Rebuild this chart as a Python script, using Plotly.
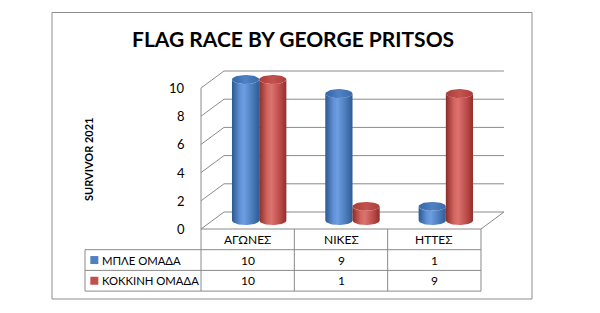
import numpy as np
import plotly.graph_objects as go

# ---------------- data ----------------
categories = ["ΑΓΩΝΕΣ", "ΝΙΚΕΣ", "ΗΤΤΕΣ"]
series_names = ["ΜΠΛΕ ΟΜΑΔΑ", "ΚΟΚΚΙΝΗ ΟΜΑΔΑ"]
blue_values = [10, 9, 1]
red_values = [10, 1, 9]
y_ticks = [0, 2, 4, 6, 8, 10]
title_text = "FLAG RACE BY GEORGE PRITSOS"
y_title = "SURVIVOR 2021"

# ---------------- geometry / style ----------------
W, H = 600, 313
PX_PER_CAT = 93.33      # pixels per category unit (x)
PX_PER_UNIT = 14.1      # pixels per value unit (y)
ORIGIN = (201, 229)     # pixel position of (x=0, y=0) front-left floor corner
X_RANGE = [-ORIGIN[0] / PX_PER_CAT, (W - ORIGIN[0]) / PX_PER_CAT]
Y_RANGE = [-(H - ORIGIN[1]) / PX_PER_UNIT, ORIGIN[1] / PX_PER_UNIT]

DX = 23 / PX_PER_CAT     # depth offset in x units
DY = 17 / PX_PER_UNIT    # depth offset in y units
RX = 13.6 / PX_PER_CAT   # cylinder radius (x units)
RY = 4.5 / PX_PER_UNIT   # cylinder ellipse half height (y units)
ROW_H = 20.7 / PX_PER_UNIT
LEG_X = (85 - ORIGIN[0]) / PX_PER_CAT

GRID = "#8a8a8a"
FONT = "Lato"

series = [
    dict(name=series_names[0], values=blue_values, color="#4F81BD",
         body=[[0, "#2b5891"], [0.3, "#6292d6"], [0.45, "#6d9de2"], [0.75, "#4a7cbb"], [1, "#2e5c96"]],
         top=[[0, "#3566a6"], [0.5, "#4f81c4"], [1, "#3a6aa8"]]),
    dict(name=series_names[1], values=red_values, color="#C0504D",
         body=[[0, "#8c2c2a"], [0.3, "#d2655f"], [0.45, "#dc736e"], [0.75, "#bd4d4a"], [1, "#922f2d"]],
         top=[[0, "#a83d3a"], [0.5, "#c4524e"], [1, "#ab3e3b"]]),
]

fig = go.Figure()
shapes = []


def line(x0, y0, x1, y1, color=GRID, width=1):
    shapes.append(dict(type="line", xref="x", yref="y", x0=x0, y0=y0, x1=x1, y1=y1,
                       line=dict(color=color, width=width), layer="below"))


n = len(categories)
# side wall + back wall gridlines
for v in y_ticks:
    line(0, v, DX, v + DY)
    line(DX, v + DY, n + DX, v + DY)
# left front edge
line(0, 0, 0, max(y_ticks))
# floor
line(0, 0, n, 0)
line(n, 0, n + DX, DY)

# table lines
for k in range(1, 4):
    line(LEG_X, -k * ROW_H, n, -k * ROW_H)
for i in range(n + 1):
    line(i, 0, i, -3 * ROW_H)
line(LEG_X, -ROW_H, LEG_X, -3 * ROW_H)

# cylinders
t_top = np.linspace(np.pi, 2 * np.pi, 40)
t_bot = np.linspace(0, -np.pi, 40)
t_full = np.linspace(0, 2 * np.pi, 60)
for s_idx, s in enumerate(series):
    for i, v in enumerate(s["values"]):
        cx = i + 0.5 + DX / 2 + (s_idx * 2 - 1) * RX
        base = DY / 2
        top = v + DY / 2
        xs = [cx - RX] + list(cx + RX * np.cos(t_top)) + list(cx + RX * np.cos(t_bot)) + [cx - RX]
        ys = [base] + list(top + RY * np.sin(t_top)) + list(base + RY * np.sin(t_bot)) + [base]
        fig.add_trace(go.Scatter(x=xs, y=ys, mode="lines", fill="toself",
                                 line=dict(width=0, color=s["color"]),
                                 fillgradient=dict(type="horizontal", colorscale=s["body"]),
                                 hoverinfo="skip", showlegend=False))
        fig.add_trace(go.Scatter(x=list(cx + RX * np.cos(t_full)), y=list(top + RY * np.sin(t_full)),
                                 mode="lines", fill="toself",
                                 line=dict(width=0, color=s["color"]),
                                 fillgradient=dict(type="horizontal", colorscale=s["top"]),
                                 hoverinfo="skip", showlegend=False))

annotations = []
# category header labels
for i, c in enumerate(categories):
    annotations.append(dict(x=i + 0.5, y=-ROW_H / 2, xref="x", yref="y", text=c, showarrow=False,
                            xanchor="center", yanchor="middle",
                            font=dict(family=FONT, size=12, color="#000")))
# table rows
for r, s in enumerate(series):
    yc = -(r + 1.5) * ROW_H
    fig.add_trace(go.Scatter(x=[LEG_X + 0.1], y=[yc], mode="markers",
                             marker=dict(symbol="square", size=8, color=s["color"], line=dict(width=0)),
                             hoverinfo="skip", showlegend=False))
    annotations.append(dict(x=LEG_X + 0.16, y=yc, xref="x", yref="y", text=s["name"], showarrow=False,
                            xanchor="left", yanchor="middle", font=dict(family=FONT, size=11.3, color="#000")))
    for i, v in enumerate(s["values"]):
        annotations.append(dict(x=i + 0.5, y=yc, xref="x", yref="y", text=str(v), showarrow=False,
                                xanchor="center", yanchor="middle",
                                font=dict(family=FONT, size=12, color="#000")))

# y tick labels
for v in y_ticks:
    annotations.append(dict(x=-0.15, y=v, xref="x", yref="y", text=str(v), showarrow=False,
                            xanchor="right", yanchor="middle", font=dict(family=FONT, size=13, color="#000")))

# titles
annotations.append(dict(x=293 / W, y=1 - 38 / H, xref="paper", yref="paper", text="<b>" + title_text + "</b>",
                        showarrow=False, xanchor="center", yanchor="middle",
                        font=dict(family=FONT, size=21, color="#000")))
annotations.append(dict(x=88 / W, y=1 - 160 / H, xref="paper", yref="paper", text="<b>" + y_title + "</b>",
                        showarrow=False, textangle=-90, xanchor="center", yanchor="middle",
                        font=dict(family=FONT, size=11, color="#000")))

# outer border
shapes.append(dict(type="rect", xref="paper", yref="paper", x0=52 / W, x1=532 / W,
                   y0=1 - 299 / H, y1=1 - 12.5 / H, line=dict(color="#8c8c8c", width=1), layer="below"))

fig.update_layout(
    width=W, height=H, autosize=False,
    margin=dict(l=0, r=0, t=0, b=0, pad=0),
    paper_bgcolor="white", plot_bgcolor="white",
    xaxis=dict(range=X_RANGE, visible=False, fixedrange=True),
    yaxis=dict(range=Y_RANGE, visible=False, fixedrange=True),
    shapes=shapes, annotations=annotations, showlegend=False,
)

fig.write_html("out.html")
